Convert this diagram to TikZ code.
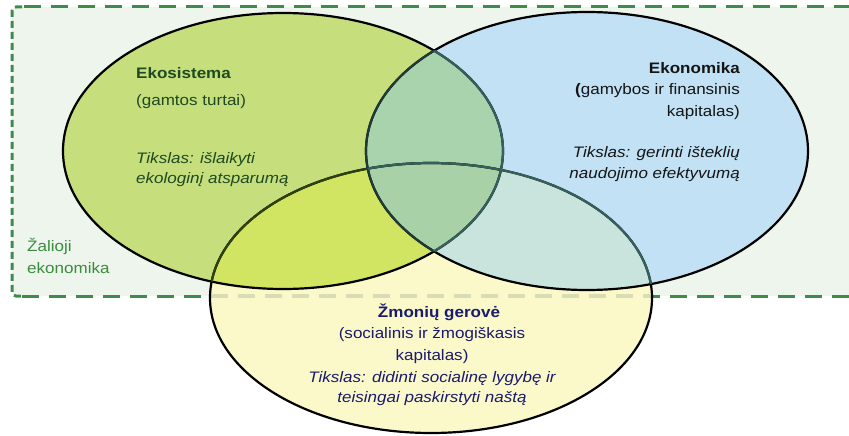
\documentclass[tikz,border=0pt]{standalone}
\usepackage{fontspec}
\setmainfont{Liberation Sans}[FakeStretch=1.12]
\definecolor{bgc}{HTML}{EEF5EC}
\definecolor{Gcol}{HTML}{C6DE7C}
\definecolor{Bcol}{HTML}{C2E1F5}
\definecolor{Ycol}{HTML}{FBF9C9}
\definecolor{GYcol}{HTML}{D2E562}
\definecolor{GBcol}{HTML}{A9D3AC}
\definecolor{BYcol}{HTML}{C9E4DC}
\definecolor{GBYcol}{HTML}{A8D1A8}
\definecolor{dashc}{HTML}{3F8B4C}
\definecolor{faintc}{HTML}{D9DDB5}
\definecolor{ekoc}{HTML}{1E4A22}
\definecolor{ekonc}{HTML}{151515}
\definecolor{zmc}{HTML}{1A1A70}
\definecolor{zalc}{HTML}{3A8C3E}
\definecolor{tealline}{HTML}{35605C}
\definecolor{oliveline}{HTML}{2F4012}
\begin{document}
\begin{tikzpicture}[x=1pt,y=-1pt,
  Gell/.style={x radius=220,y radius=138},
  Bell/.style={x radius=221,y radius=139},
  Yell/.style={x radius=221,y radius=135},
  outl/.style={line width=2.2pt},
  txt/.style={inner sep=0pt,font=\fontsize{15.2}{19}\selectfont},
  dashtop/.style={dashc,line width=3pt,dash pattern=on 17pt off 10pt},
  dashleft/.style={dashc,line width=3pt,dash pattern=on 7pt off 4pt,rounded corners=4pt}]
\useasboundingbox (0,0) rectangle (849,436);
\coordinate (gc) at (283,151);
\coordinate (bc) at (587,151);
\coordinate (yc) at (431,298);
% background of the green-economy box
\fill[bgc,rounded corners=5pt] (12,7) rectangle (860,296);
% ellipse fills
\fill[Ycol] (yc) ellipse[Yell];
\fill[Gcol] (gc) ellipse[Gell];
\fill[Bcol] (bc) ellipse[Bell];
\begin{scope}\clip (gc) ellipse[Gell]; \fill[GYcol] (yc) ellipse[Yell];\end{scope}
\begin{scope}\clip (bc) ellipse[Bell]; \fill[BYcol] (yc) ellipse[Yell];\end{scope}
\begin{scope}\clip (gc) ellipse[Gell]; \fill[GBcol] (bc) ellipse[Bell];\end{scope}
\begin{scope}\clip (gc) ellipse[Gell]; \clip (bc) ellipse[Bell]; \fill[GBYcol] (yc) ellipse[Yell];\end{scope}
% dashed border
\coordinate (tl) at (24,7);
\coordinate (tr) at (849,7);
\coordinate (bl) at (22,296);
\coordinate (br) at (849,296);
\draw[dashtop] (tl) -- (tr);
\draw[dashtop] (bl) -- (br);
\draw[dashleft] (22,7) -- (12,7) -- (12,296) -- (22,296);
\begin{scope}\clip (yc) ellipse[Yell];
  \draw[faintc,line width=3.6pt,dash pattern=on 17pt off 10pt] (bl) -- (br);
\end{scope}
% outlines
\draw[outl,black] (gc) ellipse[Gell];
\draw[outl,black] (bc) ellipse[Bell];
\draw[outl,black] (yc) ellipse[Yell];
\begin{scope}\clip (gc) ellipse[Gell];
  \draw[outl,oliveline] (yc) ellipse[Yell];
  \draw[outl,tealline!60!black] (bc) ellipse[Bell];
\end{scope}
\begin{scope}\clip (bc) ellipse[Bell];
  \draw[outl,tealline] (gc) ellipse[Gell];
  \draw[outl,tealline] (yc) ellipse[Yell];
\end{scope}
% texts
\node[txt,anchor=base west,text=ekoc,font=\fontsize{15.2}{19}\selectfont\bfseries] (e1) at (136,78) {Ekosistema};
\node[txt,anchor=base west,text=ekoc] (e2) at (136,105) {(gamtos turtai)};
\node[txt,anchor=base west,text=ekoc,font=\fontsize{15.2}{19}\selectfont\itshape] (e3) at (136,163) {Tikslas: išlaikyti};
\node[txt,anchor=base west,text=ekoc,font=\fontsize{15.2}{19}\selectfont\itshape] (e4) at (136,183) {ekologinį atsparumą};
\node[txt,anchor=base east,text=ekonc,font=\fontsize{15.2}{19}\selectfont\bfseries] (k1) at (740,74) {Ekonomika};
\node[txt,anchor=base east,text=ekonc] (k2) at (740,95) {\textbf{(}gamybos ir finansinis};
\node[txt,anchor=base east,text=ekonc] (k3) at (740,117) {kapitalas)};
\node[txt,anchor=base east,text=ekonc,font=\fontsize{15.2}{19}\selectfont\itshape] (k4) at (740,157) {Tikslas: gerinti išteklių};
\node[txt,anchor=base east,text=ekonc,font=\fontsize{15.2}{19}\selectfont\itshape] (k5) at (740,178) {naudojimo efektyvumą};
\node[txt,anchor=base,text=zmc,font=\fontsize{15.2}{19}\selectfont\bfseries] (z1) at (439,317) {Žmonių gerovė};
\node[txt,anchor=base,text=zmc] (z2) at (432,338) {(socialinis ir žmogiškasis};
\node[txt,anchor=base,text=zmc] (z3) at (432,360) {kapitalas)};
\node[txt,anchor=base,text=zmc,font=\fontsize{15.2}{19}\selectfont\itshape] (z4) at (432,382) {Tikslas: didinti socialinę lygybę ir};
\node[txt,anchor=base,text=zmc,font=\fontsize{15.2}{19}\selectfont\itshape] (z5) at (432,402) {teisingai paskirstyti naštą};
\node[txt,anchor=base west,text=zalc] (g1) at (27,251) {Žalioji};
\node[txt,anchor=base west,text=zalc] (g2) at (27,273) {ekonomika};
\end{tikzpicture}
\end{document}
